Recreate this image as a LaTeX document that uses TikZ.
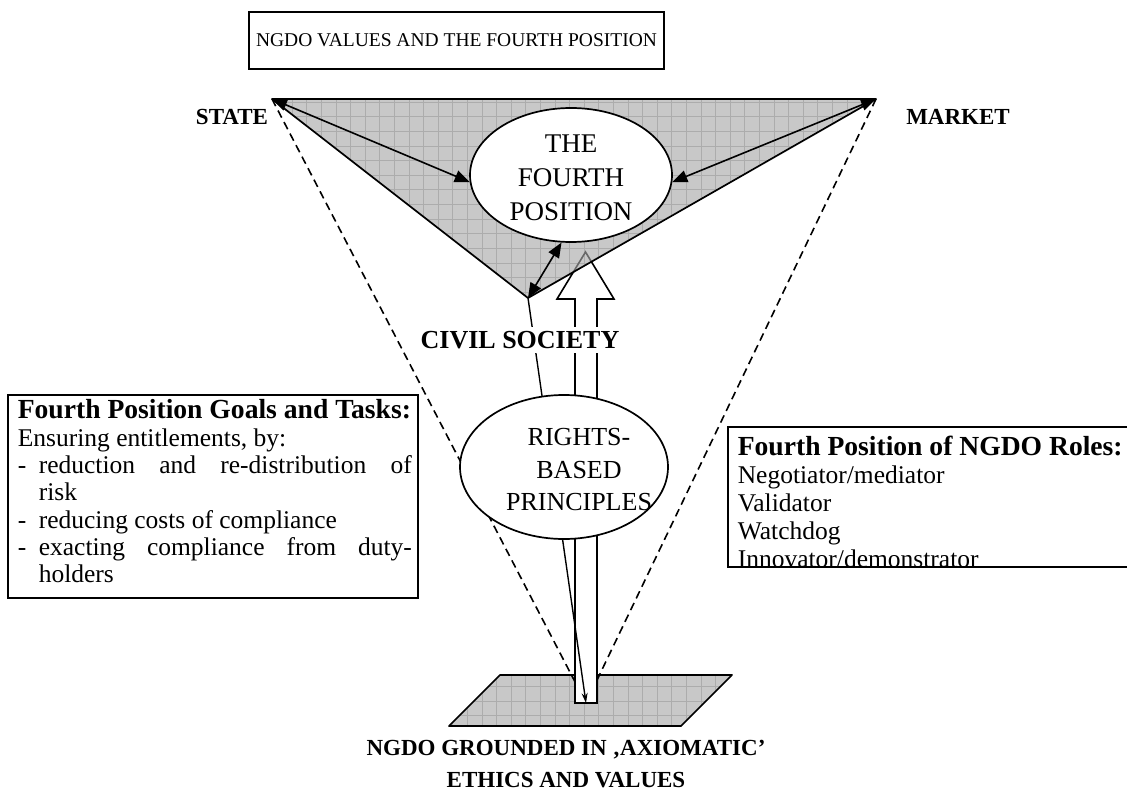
\documentclass[tikz,border=0pt]{standalone}
\usepackage{fontspec}
\setmainfont{Liberation Serif}
\usetikzlibrary{arrows.meta,shapes.geometric}
\definecolor{ground}{RGB}{200,200,200}
\definecolor{gridline}{RGB}{172,172,172}
\definecolor{hidden}{RGB}{105,105,105}

\begin{document}
\begin{tikzpicture}[x=1pt,y=-1pt,line width=1.6pt,
  frame/.style={draw, inner sep=0pt, line width=1.7pt},
  oval/.style={ellipse, draw, fill=white, inner sep=0pt, line width=1.7pt},
  plain/.style={inner sep=0pt, align=center},
  body/.style={font=\fontsize{25.5}{27.3}\selectfont},
  bigtip/.style={{Triangle[length=15pt,width=12pt]}-{Triangle[length=15pt,width=12pt]}},
  gridlines/.style={gridline, line width=0.6pt, step=14.6pt},
  sight/.style={dash pattern=on 8pt off 5pt, line width=1.6pt},
  caps/.style={font=\bfseries\fontsize{23}{32}\selectfont, inner sep=0pt, align=center}]

% page
\path[fill=white] (0,0) rectangle (1127,805);
\useasboundingbox (0,0) rectangle (1127,805);

% key points
\coordinate (S) at (272,99);
\coordinate (M) at (876,99);
\coordinate (B) at (528,298);
\coordinate (base) at (586,703);
\coordinate (p1) at (500,675);
\coordinate (p2) at (732,675);
\coordinate (p3) at (681,726);
\coordinate (p4) at (449,726);

% ground plane
\fill[ground] (p1) -- (p2) -- (p3) -- (p4) -- cycle;
\begin{scope}
  \clip (p1) -- (p2) -- (p3) -- (p4) -- cycle;
  \draw[gridlines] (440,730) grid (740,660);
\end{scope}
\draw[line width=1.7pt, line join=round] (p1) -- (p2) -- (p3) -- (p4) -- cycle;

% dashed sight lines
\draw[sight] (S) -- (base);
\draw[sight] (M) -- (base);

% hollow upward arrow
\def\hollowarrow{(575,703) -- (575,299) -- (557,299) -- (585.5,252) -- (614,299)
  -- (597,299) -- (597,703) -- cycle}
\draw[fill=white, line width=1.6pt, line join=miter] \hollowarrow;

% civil society line to the ground
\draw[-{Stealth[length=10pt,width=6pt]}, line width=1.4pt] (B) -- (base);

% the triangle, with the arrow head showing through
\fill[ground] (S) -- (M) -- (B) -- cycle;
\begin{scope}
  \clip (S) -- (M) -- (B) -- cycle;
  \draw[gridlines] (260,310) grid (890,90);
  \draw[hidden, line width=1.6pt, line join=miter] \hollowarrow;
\end{scope}
\draw[line width=1.7pt, line join=round] (S) -- (M) -- (B) -- cycle;

% fourth position
\node[oval, minimum width=202pt, minimum height=134pt] (fp) at (571,175) {};
\node[plain, font=\fontsize{27}{34}\selectfont] (fptext) at (571,178) {THE\\FOURTH\\POSITION};

\draw[bigtip] (S) -- (fp.184);
\draw[bigtip] (M) -- (fp.356);
\draw[bigtip] (B) -- (fp.262);

% labels
\node[caps] (state) at (232,117) {STATE};
\node[caps] (market) at (958,117) {MARKET};
\node[fill=white, inner xsep=2pt, inner ysep=4pt, font=\bfseries\fontsize{26}{30}\selectfont] (civil) at (520,340) {CIVIL SOCIETY};

% rights-based principles
\node[oval, minimum width=208pt, minimum height=144pt] (rb) at (564,467) {};
\node[plain, font=\fontsize{26}{32.5}\selectfont] (rbtext) at (579,470) {RIGHTS-\\BASED\\PRINCIPLES};

% title
\node[frame, minimum width=415pt, minimum height=57pt, font=\fontsize{19.5}{22}\selectfont] (title) at (456.5,40.5) {NGDO VALUES AND THE FOURTH POSITION};

% goals box
\node[frame, minimum width=410pt, minimum height=203pt] (goals) at (213,496.5) {};
\node[inner sep=0pt, align=left, anchor=north west, body] (goalstext) at (17,399) {%
  {\bfseries\fontsize{27.6}{27.3}\selectfont Fourth Position Goals and Tasks:}\\
  Ensuring entitlements, by:\\
  \makebox[21pt][l]{-}\makebox[373pt][s]{reduction and re-distribution of}\\
  \hspace*{21pt}risk\\
  \makebox[21pt][l]{-}reducing costs of compliance\\
  \makebox[21pt][l]{-}\makebox[373pt][s]{exacting compliance from duty-}\\
  \hspace*{21pt}holders};

% roles box
\node[frame, minimum width=420pt, minimum height=140pt] (roles) at (938,497) {};
\node[inner sep=0pt, align=left, anchor=north west, font=\fontsize{25.5}{28}\selectfont] (rolestext) at (737,435) {%
  {\bfseries\fontsize{27.6}{28}\selectfont Fourth Position of NGDO Roles:}\\
  Negotiator/mediator\\
  Validator\\
  Watchdog\\
  Innovator/demonstrator};

% ground caption
\node[caps] (ground) at (566,764) {NGDO GROUNDED IN ‚AXIOMATIC’\\ETHICS AND VALUES};
\end{tikzpicture}
\end{document}
